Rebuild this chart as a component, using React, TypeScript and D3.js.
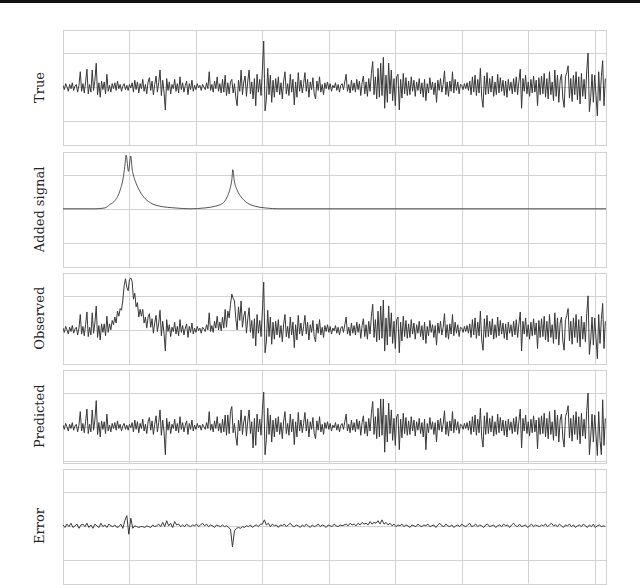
import React, { useRef, useEffect } from "react";
import * as d3 from "d3";

// noisy series are sampled every 4 steps, the error every 6
const sampleStep = 4;
const errorStep = 6;
const xMax = 1634;
const xTicks = [0, 200, 400, 600, 800, 1000, 1200, 1400, 1600];
const yTicks = [-40, 0, 40];

const trueValues = [
  2, -3, 4, 0, -5, 3, -2, 5, -4, 1, 3, -6, 2, 18, -5, 4, -7, 6, 21, -8,
  3, -6, 20, -4, 8, 28, -9, 5, -12, 7, -3, 6, -8, 15, -5, 2, -6, 4, -2, 5,
  -4, 7, -2, 3, -5, 1, 4, -3, 2, -4, 3, -1, 5, -6, 8, -3, 6, -7, 4, -2,
  9, -5, 3, -8, 6, 11, -4, 7, -9, 3, 13, -6, 5, 20, -10, 8, -6, -27, 10, -4,
  6, -8, 3, -2, 9, -5, 4, -7, 12, -3, 5, -6, 2, 7, -9, 4, -3, 8, -5, 2,
  -3, 4, -1, 2, -4, 3, 0, -3, 5, -2, 18, -4, 3, -6, 7, -2, 12, -5, 4, -7,
  9, -6, 14, -10, 5, -8, 6, 9, -7, 4, -12, -22, 8, -5, 20, -9, 6, 13, -11, 7,
  20, -8, 6, -14, 10, -22, 15, -6, 9, -10, 20, 54, -28, -15, 22, -9, 14, -18, 8, -12,
  10, -6, 12, -9, 5, -14, 7, 18, -8, 4, -10, 15, -6, 9, -21, 6, -12, 17, -5, 8,
  -7, 4, 17, -5, 9, -12, 6, -3, 11, -8, -14, 7, -4, 12, -6, 3, -9, 5, -2, 6,
  -3, 4, -5, 2, -1, 5, -4, 3, -6, 2, 4, -3, 6, 15, -5, 3, -7, 8, -4, 5,
  -6, 9, -3, 7, -10, 5, 13, -8, 6, -11, 10, -5, 16, 30, -9, 12, -14, 22, -12, 28,
  -10, 35, -25, 14, -18, 28, -8, 20, -16, 10, -22, 12, 15, -27, 9, -13, 16, -8, 11, -10,
  7, -9, 12, -5, 8, -11, 6, -4, 10, -8, 5, -12, 9, -16, 4, -7, 11, -3, 6, -9,
  5, -18, 8, -4, 10, -6, 3, 19, -9, 6, -11, 7, -5, 18, -7, 9, -4, 6, -8, 3,
  2, -3, 4, -2, 5, -4, 7, -9, 12, -6, 14, -10, 9, -7, 22, -12, -24, 13, -9, 17,
  -8, 10, -6, 13, -11, 6, -9, 15, -7, 11, -5, 8, -10, 7, -12, 9, -4, 6, -8, 10,
  -6, 12, -9, 7, 21, -25, 10, -5, 14, -8, 6, -11, 9, -7, 13, -6, 8, -22, 11, -9,
  13, -8, 16, -12, 10, -14, 18, -9, 6, -16, 20, -11, 14, -18, 8, 15, -13, -24, 12, 17,
  25, -13, 10, -17, 14, -9, 18, -15, 12, -20, 16, -11, 9, -14, 19, 40, -29, -12, 15, -18,
  14, -10, -34, 18, -16, 12, 31, -22, 10,
];

const addedX = [
  0, 96, 126, 141, 157, 172, 181, 186, 190, 197, 204, 208, 213, 220, 232, 247, 268, 292,
  337, 382, 427, 458, 479, 494, 503, 508, 511, 515, 524, 536, 554, 578, 608, 653, 1634,
];
const addedY = [
  0, 0, 1, 5, 10, 22, 36, 50, 63, 44, 62, 47, 38, 30, 20, 12, 6, 3,
  1, 0, 1, 3, 6, 14, 24, 34, 46, 34, 22, 14, 7, 3, 1, 0, 0,
];

const observedValues = [
  2, -3, 4, 0, -5, 3, -2, 5, -4, 1, 3, -6, 2, 18, -5, 4, -7, 6, 21, -8,
  3, -6, 20, -4, 8, 28, -9, 5, -12, 7, -3, 7, -7, 16, -3, 7, 0, 11, 6, 15,
  8, 22, 16, 25, 23, 35, 52, 60, 50, 46, 59, 61, 57, 36, 43, 27, 32, 15, 24, 16,
  24, 8, 15, 2, 15, 19, 3, 13, -4, 8, 17, -2, 8, 23, -7, 10, -4, -25, 12, -2,
  6, -8, 3, -2, 9, -5, 4, -7, 12, -3, 5, -6, 2, 7, -9, 4, -3, 8, -5, 2,
  -3, 4, -1, 2, -4, 3, 1, -2, 6, 0, 20, -2, 5, -3, 10, 2, 16, 0, 9, -1,
  15, 2, 24, 3, 22, 14, 30, 42, 37, 34, 13, 0, 27, 11, 34, 3, 16, 22, -4, 13,
  26, -3, 11, -10, 13, -19, 18, -4, 11, -8, 22, 56, -27, -14, 23, -8, 15, -17, 9, -11,
  10, -6, 12, -9, 5, -14, 7, 18, -8, 4, -10, 15, -6, 9, -21, 6, -12, 17, -5, 8,
  -7, 4, 17, -5, 9, -12, 6, -3, 11, -8, -14, 7, -4, 12, -6, 3, -9, 5, -2, 6,
  -3, 4, -5, 2, -1, 5, -4, 3, -6, 2, 4, -3, 6, 15, -5, 3, -7, 8, -4, 5,
  -6, 9, -3, 7, -10, 5, 13, -8, 6, -11, 10, -5, 16, 30, -9, 12, -14, 22, -12, 28,
  -10, 35, -25, 14, -18, 28, -8, 20, -16, 10, -22, 12, 15, -27, 9, -13, 16, -8, 11, -10,
  7, -9, 12, -5, 8, -11, 6, -4, 10, -8, 5, -12, 9, -16, 4, -7, 11, -3, 6, -9,
  5, -18, 8, -4, 10, -6, 3, 19, -9, 6, -11, 7, -5, 18, -7, 9, -4, 6, -8, 3,
  2, -3, 4, -2, 5, -4, 7, -9, 12, -6, 14, -10, 9, -7, 22, -12, -24, 13, -9, 17,
  -8, 10, -6, 13, -11, 6, -9, 15, -7, 11, -5, 8, -10, 7, -12, 9, -4, 6, -8, 10,
  -6, 12, -9, 7, 21, -25, 10, -5, 14, -8, 6, -11, 9, -7, 13, -6, 8, -22, 11, -9,
  13, -8, 16, -12, 10, -14, 18, -9, 6, -16, 20, -11, 14, -18, 8, 15, -13, -24, 12, 17,
  25, -13, 10, -17, 14, -9, 18, -15, 12, -20, 16, -11, 9, -14, 19, 40, -29, -12, 15, -18,
  14, -10, -34, 18, -16, 12, 31, -22, 10,
];

const predictedValues = [
  2, -3, 4, 0, -5, 3, -2, 5, -4, 1, 3, -6, 2, 18, -5, 4, -7, 6, 21, -8,
  3, -6, 20, -4, 8, 31, -9, 5, -12, 7, -3, 6, -8, 15, -5, 2, -6, 4, -2, 5,
  -4, 7, -2, 3, -5, 1, 4, -3, 2, -4, 3, -1, 5, -6, 8, -3, 6, -7, 4, -2,
  9, -5, 3, -8, 6, 11, -4, 7, -9, 3, 13, -6, 5, 20, -10, 8, -6, -33, 10, -4,
  6, -8, 3, -2, 9, -5, 4, -7, 12, -3, 5, -6, 2, 7, -9, 4, -3, 8, -5, 2,
  -3, 4, -1, 2, -4, 3, 0, -3, 5, -2, 18, -4, 3, -6, 7, -2, 12, -5, 4, -7,
  9, -6, 14, -10, 14, -8, 18, 24, -7, 4, -12, -22, 8, -5, 20, -9, 6, 13, -11, 7,
  20, -8, 6, -25, 10, -22, 15, -6, 9, -10, 20, 41, -33, -15, 22, -9, 14, -18, 8, -12,
  10, -6, 12, -9, 5, -14, 7, 18, -8, 4, -10, 15, -6, 9, -21, 6, -12, 17, -5, 8,
  -7, 4, 17, -5, 9, -12, 6, -3, 11, -8, -14, 7, -4, 12, -6, 3, -9, 5, -2, 6,
  -3, 4, -5, 2, -1, 5, -4, 3, -6, 2, 4, -3, 6, 15, -5, 3, -7, 8, -4, 5,
  -6, 9, -3, 7, -10, 5, 13, -8, 6, -11, 10, -5, 16, 30, -9, 12, -14, 22, -12, 33,
  -10, 33, -30, 14, -18, 28, -8, 20, -16, 10, -22, 12, 15, -27, 9, -13, 16, -8, 11, -10,
  7, -9, 12, -5, 8, -11, 6, -4, 10, -8, 5, -12, 9, -27, 4, -7, 11, -3, 6, -9,
  5, -18, 8, -4, 10, -6, 3, 19, -9, 6, -11, 7, -5, 18, -7, 9, -4, 6, -8, 3,
  2, -3, 4, -2, 5, -4, 7, -9, 12, -6, 14, -10, 9, -7, 22, -12, -24, 13, -9, 17,
  -8, 10, -6, 13, -11, 6, -9, 15, -7, 11, -5, 8, -10, 7, -12, 9, -4, 6, -8, 10,
  -6, 12, -9, 7, 21, -25, 10, -5, 14, -8, 6, -11, 9, -7, 13, -6, 8, -26, 11, -9,
  13, -8, 16, -12, 10, -14, 18, -9, 6, -16, 20, -11, 14, -18, 8, 15, -13, -24, 12, 17,
  25, -13, 10, -17, 14, -9, 18, -15, 12, -20, 16, -11, 9, -14, 19, 40, -33, -12, 15, -18,
  14, -10, -34, 18, -16, -33, 32, -22, 10,
];

const errorValues = [
  1, -2, 2, -1, 3, -2, 0, 2, -3, 1, 2, -1, 3, -2, 1, -3, 2, 0, -2, 3,
  -1, 1, -2, 2, 0, -1, 1, -2, -1, 2, -3, 6, 12, -10, 9, -3, 0, -1, -2, -1,
  -1, -2, 0, -1, -2, 1, -1, 0, 2, -1, 4, -1, 6, 0, 3, -2, 5, 1, 2, -1,
  1, -1, 2, 0, -1, 1, 0, 2, -1, 1, 3, 0, 2, -1, 1, 0, -2, 1, 0, -1,
  1, -1, 0, -2, -4, -25, -6, -3, -2, -3, -1, -2, 0, -1, 1, -2, 0, 1, -1, 2,
  2, 7, 1, 3, -1, 2, 0, 1, -2, 1, 0, 2, -1, 1, 3, 0, -1, 1, 0, -2,
  1, -1, 2, 0, -2, 1, -1, 0, 2, -1, 1, 0, -2, 1, 0, -1, 2, 0, -1, 1,
  0, 1, 2, 0, 3, 1, 2, 0, 3, 1, 4, 2, 3, 1, 5, 2, 4, 3, 6, 2,
  7, 2, 4, 1, 3, 0, 2, -1, 1, 0, 2, -1, 1, 0, -2, 1, 0, -1, 2, 0,
  -1, 1, 0, 2, -1, 0, 1, -2, 1, 3, 0, -1, 2, 0, -1, 1, -2, 0, 1, -1,
  2, 0, -1, 1, 3, -1, 0, 2, -1, 1, 0, -2, 1, 2, -1, 0, 1, -2, 0, 1,
  -1, 2, 0, 1, -2, 1, 3, 0, -1, 2, -1, 0, 1, -2, 0, 2, -1, 1, 0, -1,
  1, 0, 2, -1, 1, 3, 0, 1, -1, 2, 0, -2, 1, 0, 2, -1, 1, -2, 0, 1,
  -1, 2, 0, -2, 1, -1, 2, -2, 0, 1, -1, 0, -1,
];

const toPoints = (values: number[], step: number) =>
  values.map((v, i) => [i * step, v] as [number, number]);

const panels = [
  { label: "True", points: toPoints(trueValues, sampleStep), top: 30, bottom: 145, yMin: -68.2, yMax: 67.1, smooth: false },
  {
    label: "Added signal",
    points: addedX.map((x, i) => [x, addedY[i]] as [number, number]),
    top: 152, bottom: 267, yMin: -68.5, yMax: 66.8, smooth: true,
  },
  { label: "Observed", points: toPoints(observedValues, sampleStep), top: 272.5, bottom: 364, yMin: -40.2, yMax: 67.4, smooth: false },
  { label: "Predicted", points: toPoints(predictedValues, sampleStep), top: 369.5, bottom: 463, yMin: -42.8, yMax: 67.8, smooth: false },
  { label: "Error", points: toPoints(errorValues, errorStep), top: 468.5, bottom: 583.5, yMin: -68.3, yMax: 67.8, smooth: false },
];

const width = 640;
const height = 585;
const left = 63;
const right = 606;

const TimeSeriesPanels = () => {
  const d3Container = useRef<SVGSVGElement | null>(null);

  useEffect(() => {
    if (!d3Container.current) return;
    const svg = d3.select(d3Container.current);
    svg.selectAll("*").remove();

    // black rule across the top of the figure
    svg.append("rect").attr("x", 0).attr("y", 0).attr("width", width).attr("height", 3).attr("fill", "#111");

    const xScale = d3.scaleLinear().domain([0, xMax]).range([left, right]);

    panels.forEach((p, idx) => {
      const yScale = d3.scaleLinear().domain([p.yMin, p.yMax]).range([p.bottom, p.top]);
      const g = svg.append("g");

      g.append("rect")
        .attr("x", left + 0.5)
        .attr("y", Math.round(p.top) + 0.5)
        .attr("width", right - left)
        .attr("height", Math.round(p.bottom) - Math.round(p.top))
        .attr("fill", "#fff")
        .attr("stroke", "#d2d2d2")
        .attr("stroke-width", 1);

      g.selectAll(".vgrid")
        .data(xTicks.filter((t) => t > 0))
        .enter()
        .append("line")
        .attr("x1", (d) => Math.round(xScale(d)) + 0.5)
        .attr("x2", (d) => Math.round(xScale(d)) + 0.5)
        .attr("y1", p.top)
        .attr("y2", p.bottom)
        .attr("stroke", "#d2d2d2");

      g.selectAll(".hgrid")
        .data(yTicks.filter((t) => t > p.yMin && t < p.yMax))
        .enter()
        .append("line")
        .attr("x1", left)
        .attr("x2", right)
        .attr("y1", (d) => Math.round(yScale(d)) + 0.5)
        .attr("y2", (d) => Math.round(yScale(d)) + 0.5)
        .attr("stroke", "#d2d2d2");

      const clipId = `clip-${idx}`;
      svg.append("clipPath")
        .attr("id", clipId)
        .append("rect")
        .attr("x", left)
        .attr("y", p.top)
        .attr("width", right - left)
        .attr("height", p.bottom - p.top);

      const line = d3
        .line<[number, number]>()
        .x((d) => xScale(d[0]))
        .y((d) => yScale(d[1]))
        .curve(p.smooth ? d3.curveMonotoneX : d3.curveLinear);

      g.append("path")
        .datum(p.points)
        .attr("clip-path", `url(#${clipId})`)
        .attr("d", line)
        .attr("fill", "none")
        .attr("stroke", p.smooth ? "#2a2a2a" : "#383838")
        .attr("stroke-width", p.smooth ? 0.8 : 1);

      const cy = (p.top + p.bottom) / 2;
      svg.append("text")
        .attr("transform", `translate(44,${cy}) rotate(-90)`)
        .attr("text-anchor", "middle")
        .attr("font-family", "DejaVu Serif")
        .attr("font-size", 13)
        .attr("fill", "#222")
        .text(p.label);
    });
  }, []);

  return (
    <svg
      ref={d3Container}
      width={width}
      height={height}
      style={{ position: "absolute", left: 0, top: 0, background: "#fff" }}
    />
  );
};

export default function App() {
  return <TimeSeriesPanels />;
}
